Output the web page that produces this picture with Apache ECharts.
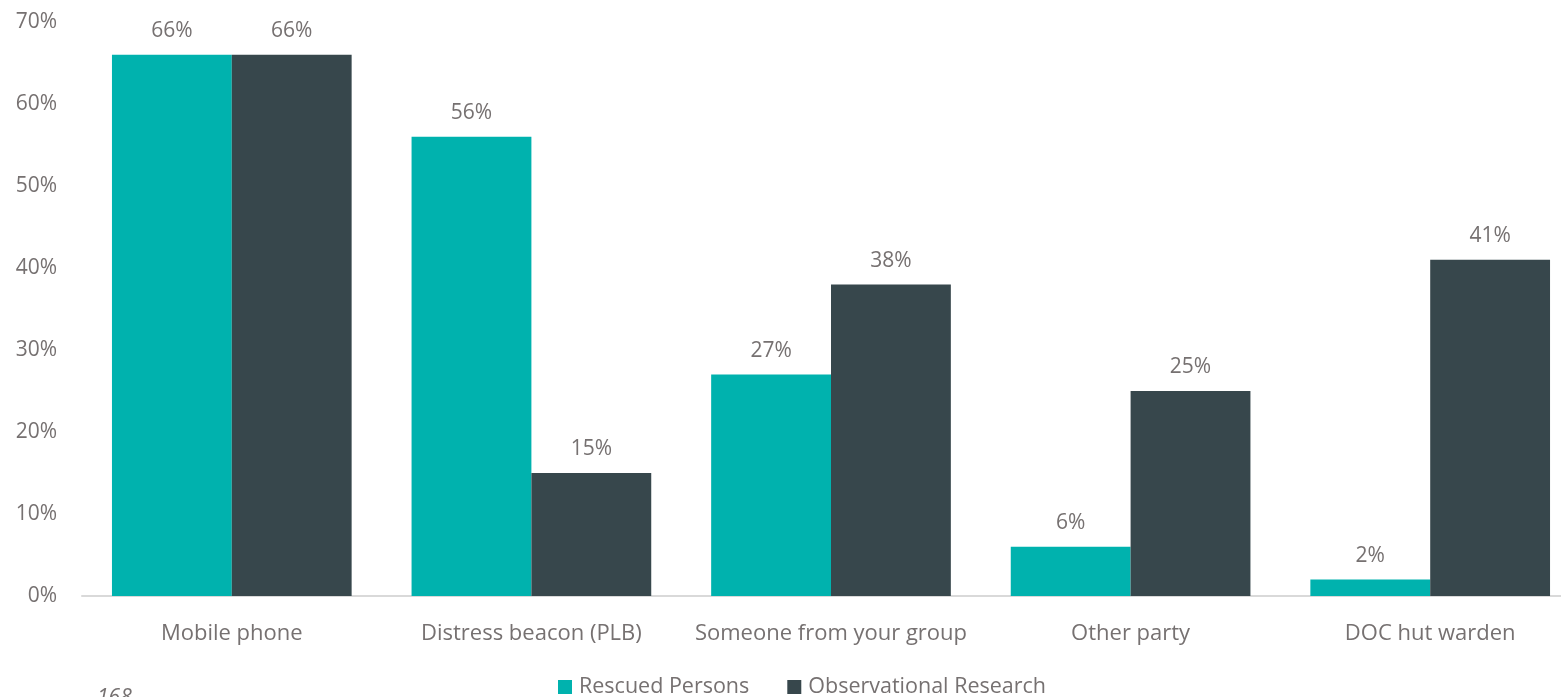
<!DOCTYPE html>
<html>
<head>
<meta charset="utf-8">
<script src="https://cdn.jsdelivr.net/npm/echarts@6/dist/echarts.min.js"></script>
<style>
  html, body { margin: 0; padding: 0; background: #fff; }
  #chart { width: 1561px; height: 697px; }
</style>
</head>
<body>
<div id="chart"></div>
<script>
// Who was contacted for help, by source
const categories = ['Mobile phone', 'Distress beacon (PLB)', 'Someone from your group', 'Other party', 'DOC hut warden'];
const rescuedPersons = [66, 56, 27, 6, 2];
const observationalResearch = [66, 15, 38, 25, 41];
const seriesNames = ['Rescued Persons', 'Observational Research'];
const pageNumber = '168';

const FONT = '"Open Sans", "Noto Sans", sans-serif';
const TEXT = '#767171';

const chart = echarts.init(document.getElementById('chart'), null, { renderer: 'canvas' });

const labelStyle = {
  show: true,
  position: 'top',
  distance: 13,
  color: TEXT,
  fontSize: 21,
  fontFamily: FONT,
  formatter: p => p.value + '%'
};

chart.setOption({
  animation: false,
  textStyle: { fontFamily: FONT },
  // plot runs a little past the right edge of the canvas
  grid: { left: 82, width: 1498, top: 22, bottom: 101, containLabel: false, outerBoundsMode: 'none' },
  legend: {
    bottom: -6,
    left: 553,
    itemWidth: 14,
    itemHeight: 14,
    itemGap: 38,
    icon: 'rect',
    textStyle: { color: TEXT, fontSize: 21.5, fontFamily: FONT, padding: [0, 0, 0, 2] },
    data: seriesNames
  },
  xAxis: {
    type: 'category',
    data: categories,
    axisLine: { lineStyle: { color: '#D9D9D9', width: 2 } },
    axisTick: { show: false },
    axisLabel: { color: TEXT, fontSize: 22, fontFamily: FONT, margin: 27, interval: 0 }
  },
  yAxis: {
    type: 'value',
    min: 0,
    max: 70,
    interval: 10,
    splitLine: { show: false },
    axisLine: { show: false },
    axisTick: { show: false },
    axisLabel: { color: TEXT, fontSize: 21, fontFamily: FONT, margin: 25, formatter: '{value}%' }
  },
  series: [
    {
      name: seriesNames[0],
      type: 'bar',
      data: rescuedPersons,
      barGap: '0%',
      barCategoryGap: '20%',
      itemStyle: { color: '#00B2AE' },
      label: labelStyle
    },
    {
      name: seriesNames[1],
      type: 'bar',
      data: observationalResearch,
      itemStyle: { color: '#37474C' },
      label: labelStyle
    }
  ],
  graphic: [
    {
      type: 'text',
      left: 97,
      top: 688,
      style: { text: pageNumber, fill: TEXT, font: 'italic 21px ' + FONT }
    }
  ]
});
</script>
</body>
</html>
